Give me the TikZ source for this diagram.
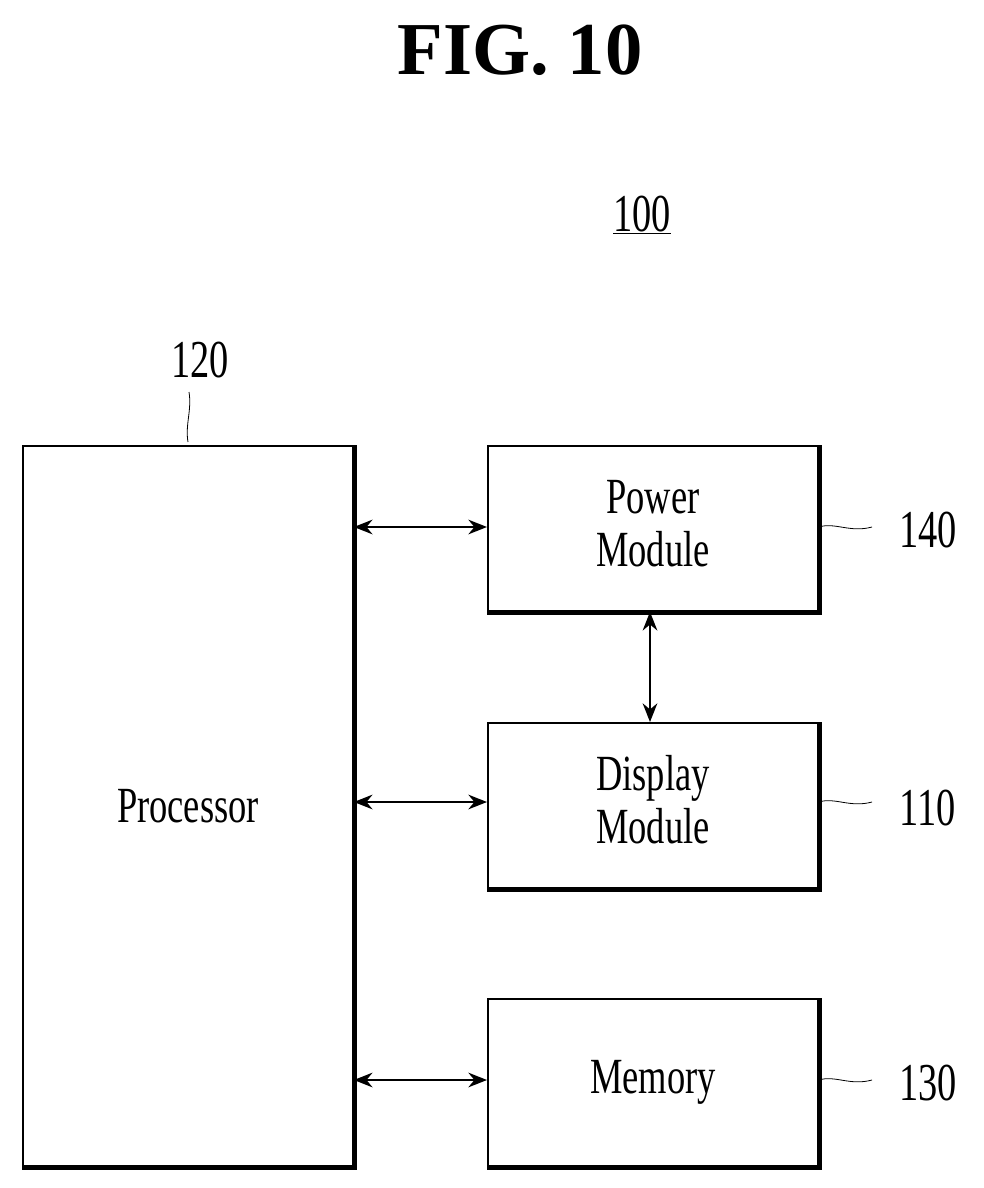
\documentclass[tikz,border=0pt]{standalone}
\usepackage{fontspec}
\setmainfont{Liberation Serif}
\usetikzlibrary{arrows.meta}
\begin{document}
\begin{tikzpicture}[x=0.75pt,y=-0.75pt,
  box/.style={draw,line width=1.4pt,minimum width=330*0.75pt,inner sep=0pt,font=\fontsize{38}{44}\selectfont,align=center},
  lbl/.style={font=\fontsize{40}{44}\selectfont},
  arr/.style={{Stealth[length=14pt,width=11pt]}-{Stealth[length=14pt,width=11pt]},line width=1.4pt}]
\useasboundingbox (0,0) rectangle (983,1188);
\node[font=\bfseries\fontsize{56}{60}\selectfont] (fig) at (520,50) {FIG. 10};
\node[lbl] (l100) at (642,215) {\scalebox{0.72}[1]{\underline{100}}};
\node[box,minimum height=720*0.75pt,anchor=north west] (proc) at (22,445) {\scalebox{0.72}[1]{Processor}};
\node[box,minimum height=165*0.75pt,anchor=north west] (pow) at (487,445) {\scalebox{0.72}[1]{\begin{tabular}{c}Power\\[-4pt]Module\end{tabular}}};
\node[box,minimum height=165*0.75pt,anchor=north west] (disp) at (487,722) {\scalebox{0.72}[1]{\begin{tabular}{c}Display\\[-4pt]Module\end{tabular}}};
\node[box,minimum height=167*0.75pt,anchor=north west] (mem) at (487,998) {\scalebox{0.72}[1]{Memory}};
\foreach \n in {proc,pow,disp,mem}{\draw[line width=2.6pt] ([xshift=1pt]\n.north east) -- ([xshift=1pt,yshift=-1pt]\n.south east) -- ([yshift=-1pt]\n.south west);}
\draw[arr] (proc.east |- 0,527) -- (pow.west |- 0,527);
\draw[arr] (proc.east |- 0,802) -- (disp.west |- 0,802);
\draw[arr] (proc.east |- 0,1080) -- (mem.west |- 0,1080);
\draw[arr] (pow.south -| 650,0) -- (disp.north -| 650,0);
\node[lbl] (l120) at (200,360) {\scalebox{0.72}[1]{120}};
\node[lbl] (l140) at (928,530) {\scalebox{0.72}[1]{140}};
\node[lbl] (l110) at (928,808) {\scalebox{0.72}[1]{110}};
\node[lbl] (l130) at (928,1083) {\scalebox{0.72}[1]{130}};
\draw[line width=0.6pt] (188,442) .. controls (185,425) and (192,410) .. (189,392);
\foreach \n/\y in {pow/527,disp/802,mem/1080}{
 \draw[line width=0.6pt] (\n.east |- 0,\y) .. controls (835,\y-5) and (850,\y+6) .. (872,\y);}
\end{tikzpicture}
\end{document}
